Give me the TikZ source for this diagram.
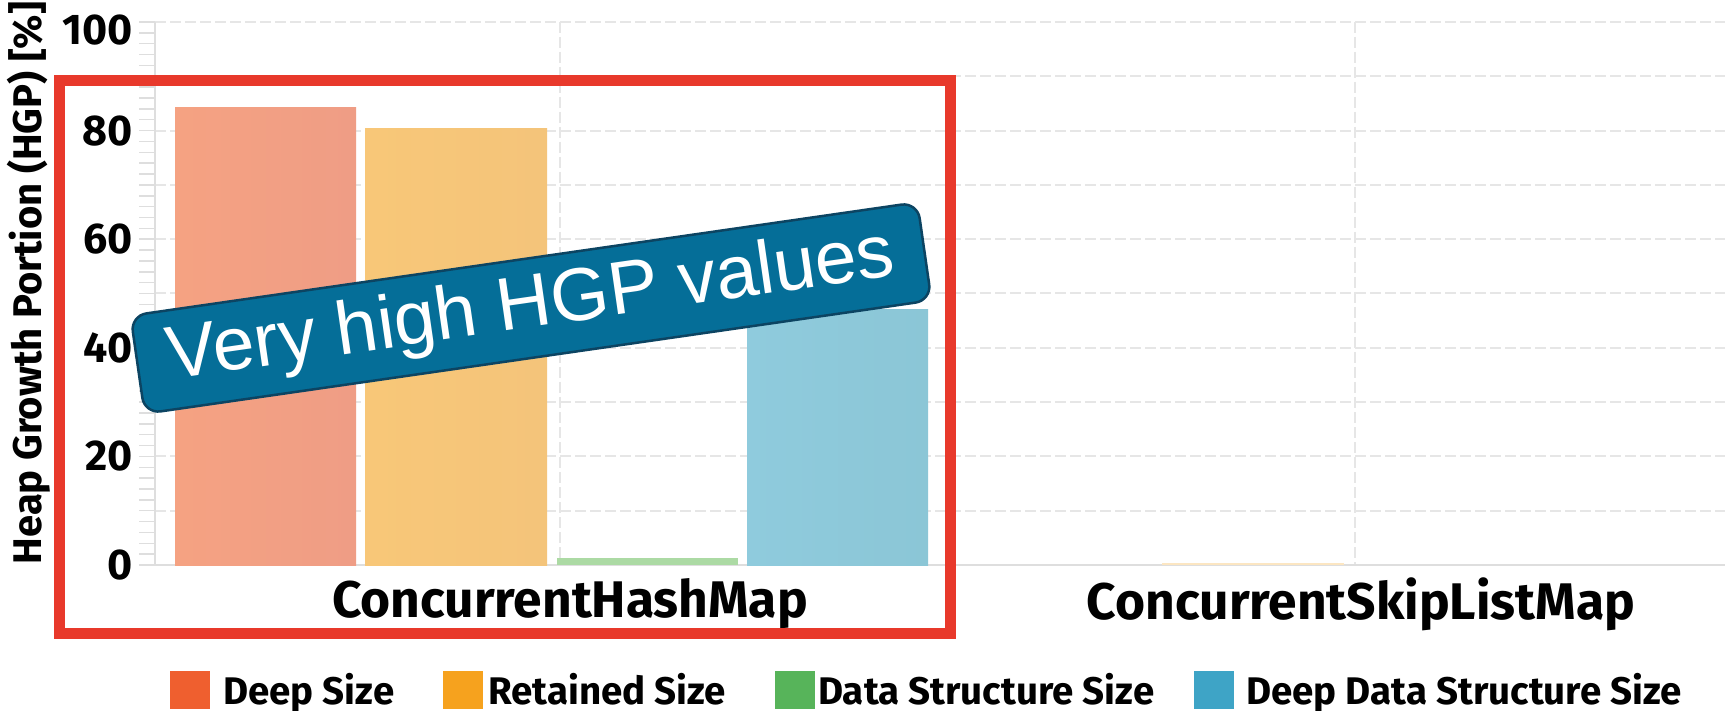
\documentclass[tikz,border=0pt]{standalone}
\usepackage{fontspec}
\newfontfamily\chartfont{Fira Sans}
\newfontfamily\calloutfont{Liberation Sans}
\definecolor{gridgray}{RGB}{230,230,230}
\definecolor{axisgray}{RGB}{222,222,222}
\definecolor{boxred}{RGB}{232,57,43}
\definecolor{callblue}{RGB}{5,110,152}
\definecolor{calledge}{RGB}{12,68,98}
\definecolor{deepL}{RGB}{245,162,130}
\definecolor{deepR}{RGB}{239,157,133}
\definecolor{retL}{RGB}{248,199,120}
\definecolor{retR}{RGB}{244,196,122}
\definecolor{dsL}{RGB}{172,218,164}
\definecolor{ddsL}{RGB}{143,203,221}
\definecolor{ddsR}{RGB}{139,198,214}
\definecolor{legDeep}{RGB}{239,95,47}
\definecolor{legRet}{RGB}{246,162,30}
\definecolor{legDs}{RGB}{87,180,90}
\definecolor{legDds}{RGB}{62,164,198}
\tikzset{
  gridline/.style={draw=gridgray, line width=2pt, dash pattern=on 11pt off 4pt},
  axisline/.style={draw=axisgray, line width=2.5pt},
  minortick/.style={draw=axisgray, line width=1.5pt},
  ticklab/.style={anchor=east, inner sep=0pt, font=\chartfont\bfseries\fontsize{43}{43}\selectfont},
  catlab/.style={anchor=base, inner sep=0pt, font=\chartfont\bfseries\fontsize{51.5}{51.5}\selectfont},
  leglab/.style={anchor=base west, inner sep=0pt, font=\chartfont\bfseries\fontsize{38.5}{38.5}\selectfont},
  legkey/.style={inner sep=0pt, minimum width=40pt, minimum height=38pt, anchor=north west},
}
\begin{document}
\begin{tikzpicture}[x=1pt, y=-1pt]
  \useasboundingbox (0,0) rectangle (1725,711);
  \fill[white] (0,0) rectangle (1725,711);
  % value to vertical position: 0 -> 565, 100 -> 22
  \def\yv#1{565-5.43*#1}
  % horizontal grid
  \foreach \v in {10,20,...,100}
    \draw[gridline] (155,{\yv{\v}}) -- (1725,{\yv{\v}});
  % vertical grid at category centres
  \foreach \x in {560,1355}
    \draw[gridline] (\x,22) -- (\x,565);
  % minor ticks on the value axis
  \foreach \v in {0,2,...,100}
    \draw[minortick] (139,{\yv{\v}}) -- (155,{\yv{\v}});
  % axes
  \draw[axisline] (155,22) -- (155,565);
  \draw[axisline] (155,565) -- (1725,565);
  % bars, ConcurrentHashMap
  \fill[left color=deepL, right color=deepR] (175,565) rectangle (356,{\yv{84.2}});
  \fill[left color=retL, right color=retR] (365,565) rectangle (547,{\yv{80.3}});
  \fill[dsL] (557,565) rectangle (738,558);
  \fill[left color=ddsL, right color=ddsR] (747,565) rectangle (928,{\yv{47}});
  % bars, ConcurrentSkipListMap
  \fill[retL!45] (1162,565) rectangle (1344,562.5);
  % value labels
  \node[ticklab] (t100) at (133,30) {100};
  \node[ticklab] (t80) at (133,{\yv{80}}) {80};
  \node[ticklab] (t60) at (133,{\yv{60}}) {60};
  \node[ticklab] (t40) at (133,{\yv{40}}) {40};
  \node[ticklab] (t20) at (133,{\yv{20}}) {20};
  \node[ticklab] (t0) at (133,{\yv{0}}) {0};
  % axis title
  \node[rotate=90, inner sep=0pt, font=\chartfont\bfseries\fontsize{40}{40}\selectfont] (ytitle) at (29,283) {Heap Growth Portion (HGP) [\%]};
  % category labels
  \node[catlab] (cat1) at (570,617) {ConcurrentHashMap};
  \node[catlab] (cat2) at (1361,619) {ConcurrentSkipListMap};
  % legend
  \node[legkey, fill=legDeep] (k1) at (170,671) {};
  \node[leglab] (l1) at (223,704) {Deep Size};
  \node[legkey, fill=legRet] (k2) at (443,671) {};
  \node[leglab] (l2) at (488,704) {Retained Size};
  \node[legkey, fill=legDs] (k3) at (775,671) {};
  \node[leglab] (l3) at (818,704) {Data Structure Size};
  \node[legkey, fill=legDds] (k4) at (1194,671) {};
  \node[leglab] (l4) at (1246,704) {Deep Data Structure Size};
  % highlight frame
  \draw[boxred, line width=11pt] (59,81) rectangle (950,633);
  % callout
  \node[rotate=8.2, fill=callblue, draw=calledge, line width=2.5pt, rounded corners=16pt,
        minimum width=795pt, minimum height=99pt, inner sep=0pt, text=white,
        font=\calloutfont\fontsize{75}{75}\selectfont] (note) at (531,308) {Very high HGP values};
\end{tikzpicture}
\end{document}
